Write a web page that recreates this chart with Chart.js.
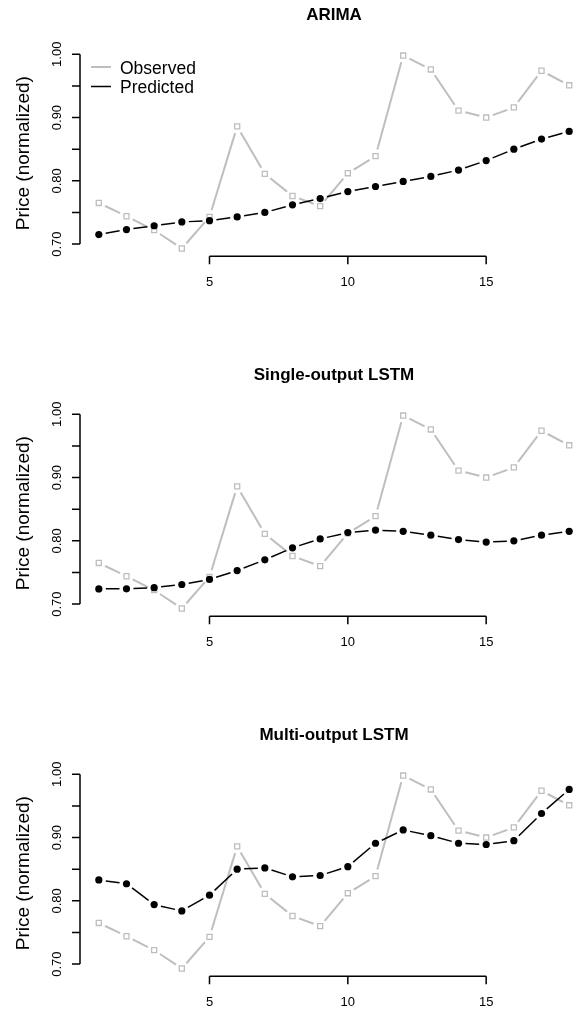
<!DOCTYPE html>
<html>
<head>
<meta charset="utf-8">
<script src="https://cdn.jsdelivr.net/npm/chart.js@4/dist/chart.umd.min.js"></script>
<style>
  html, body { margin: 0; padding: 0; background: #fff; overflow: hidden; width: 577px; height: 1010px; }
  .panel { position: absolute; left: 0; width: 600px; height: 360px; }
  .panel canvas { display: block; }
</style>
</head>
<body>
<div class="panel" style="top:0px"><canvas id="c0" width="600" height="360"></canvas></div>
<div class="panel" style="top:360px"><canvas id="c1" width="600" height="360"></canvas></div>
<div class="panel" style="top:720px"><canvas id="c2" width="600" height="360"></canvas></div>
<script>
// ---- data ----
const steps = [1,2,3,4,5,6,7,8,9,10,11,12,13,14,15,16,17,18];
const observed = [0.765,0.744,0.722,0.693,0.743,0.886,0.811,0.776,0.760,0.812,0.839,0.998,0.976,0.911,0.900,0.916,0.974,0.951];
const predArima = [0.715,0.723,0.729,0.735,0.737,0.743,0.750,0.762,0.772,0.783,0.791,0.799,0.807,0.817,0.832,0.850,0.866,0.878];
const predSingle = [0.724,0.7242,0.726,0.731,0.739,0.753,0.770,0.789,0.803,0.813,0.817,0.815,0.809,0.802,0.798,0.800,0.809,0.815];
const predMulti = [0.833,0.827,0.794,0.784,0.809,0.850,0.852,0.838,0.840,0.854,0.891,0.912,0.903,0.891,0.889,0.895,0.938,0.976];
const panelTitles = ["ARIMA", "Single-output LSTM", "Multi-output LSTM"];
const predictions = [predArima, predSingle, predMulti];
const seriesNames = ["Observed", "Predicted"];
const yTicks = [0.70,0.75,0.80,0.85,0.90,0.95,1.00];
const yTickLabels = ["0.70","","0.80","","0.90","","1.00"];
const xTicks = [5,10,15];
const xTickLabels = ["5","10","15"];
const yAxisTitle = "Price (normalized)";

// ---- styles ----
const GRAY = "#bebebe";
const FONT = "'Liberation Sans', Arial, Helvetica, sans-serif";
const GAP = 7;

function toXY(arr) { return arr.map((v, i) => ({x: steps[i], y: v})); }

// R type="b": line segments with gaps around the points
const gapSegment = {
  borderDash: ctx => {
    const L = Math.hypot(ctx.p1.x - ctx.p0.x, ctx.p1.y - ctx.p0.y);
    const eps = ctx.p0DataIndex * 1e-6;
    if (L <= 2 * GAP) return [0, L + 10 + eps];
    return [L - 2 * GAP + eps, 2 * GAP];
  },
  borderDashOffset: ctx => {
    const L = Math.hypot(ctx.p1.x - ctx.p0.x, ctx.p1.y - ctx.p0.y);
    if (L <= 2 * GAP) return 0;
    return L - GAP + ctx.p0DataIndex * 1e-6;
  }
};

const rAxesPlugin = {
  id: 'rAxes',
  afterDraw(chart, args, opts) {
    const ctx = chart.ctx;
    const xs = chart.scales.x, ys = chart.scales.y, area = chart.chartArea;
    ctx.save();
    ctx.strokeStyle = "#000";
    ctx.fillStyle = "#000";
    ctx.lineWidth = 1.5;
    const yTop = ys.getPixelForValue(yTicks[yTicks.length - 1]);
    const yBot = ys.getPixelForValue(yTicks[0]);
    ctx.beginPath();
    ctx.moveTo(area.left, yTop); ctx.lineTo(area.left, yBot);
    yTicks.forEach(t => {
      const py = ys.getPixelForValue(t);
      ctx.moveTo(area.left - 8, py); ctx.lineTo(area.left, py);
    });
    const xL = xs.getPixelForValue(xTicks[0]);
    const xR = xs.getPixelForValue(xTicks[xTicks.length - 1]);
    ctx.moveTo(xL, area.bottom); ctx.lineTo(xR, area.bottom);
    xTicks.forEach(t => {
      const px = xs.getPixelForValue(t);
      ctx.moveTo(px, area.bottom); ctx.lineTo(px, area.bottom + 8);
    });
    ctx.stroke();
    ctx.font = "13px " + FONT;
    ctx.textAlign = "center";
    ctx.textBaseline = "middle";
    yTicks.forEach((t, i) => {
      if (!yTickLabels[i]) return;
      const py = ys.getPixelForValue(t);
      ctx.save();
      ctx.translate(57, py);
      ctx.rotate(-Math.PI / 2);
      ctx.fillText(yTickLabels[i], 0, 0);
      ctx.restore();
    });
    xTicks.forEach((t, i) => {
      ctx.fillText(xTickLabels[i], xs.getPixelForValue(t), area.bottom + 26);
    });
    ctx.save();
    ctx.font = "19px " + FONT;
    ctx.translate(23.5, (yTop + yBot) / 2 + 4);
    ctx.rotate(-Math.PI / 2);
    ctx.fillText(yAxisTitle, 0, 0);
    ctx.restore();
    ctx.font = "bold 17px " + FONT;
    ctx.fillText(opts.title, 334, 15);
    if (opts.legend) {
      ctx.textAlign = "left";
      ctx.font = "17.5px " + FONT;
      ctx.lineWidth = 2;
      ctx.strokeStyle = GRAY;
      ctx.beginPath(); ctx.moveTo(91, 67); ctx.lineTo(111, 67); ctx.stroke();
      ctx.lineWidth = 1.5;
      ctx.strokeStyle = "#000";
      ctx.beginPath(); ctx.moveTo(91, 86.5); ctx.lineTo(111, 86.5); ctx.stroke();
      ctx.fillText(seriesNames[0], 120, 69);
      ctx.fillText(seriesNames[1], 120, 88.5);
    }
    ctx.restore();
  }
};

function makeChart(idx) {
  new Chart(document.getElementById("c" + idx), {
    type: 'line',
    data: {
      datasets: [
        {
          label: seriesNames[1],
          data: toXY(predictions[idx]),
          borderColor: "#000",
          borderWidth: 1.5,
          borderCapStyle: 'butt',
          pointStyle: 'circle',
          pointRadius: 3.6,
          pointBackgroundColor: "#000",
          pointBorderWidth: 0,
          segment: gapSegment,
          clip: false,
          order: 0
        },
        {
          label: seriesNames[0],
          data: toXY(observed),
          borderColor: GRAY,
          borderWidth: 2,
          borderCapStyle: 'butt',
          pointStyle: 'rect',
          pointRadius: 3.6,
          pointBackgroundColor: "#fff",
          pointBorderColor: GRAY,
          pointBorderWidth: 1.3,
          segment: gapSegment,
          clip: false,
          order: 1
        }
      ]
    },
    options: {
      responsive: false,
      animation: false,
      devicePixelRatio: 1,
      layout: { padding: { left: 80, right: 12, top: 46.5, bottom: 103.7 } },
      scales: {
        x: { type: 'linear', min: 0.32, max: 18.68, display: false },
        y: { type: 'linear', min: 0.6807, max: 1.0123, display: false }
      },
      plugins: {
        legend: { display: false },
        tooltip: { enabled: false },
        rAxes: { title: panelTitles[idx], legend: idx === 0 }
      }
    },
    plugins: [rAxesPlugin]
  });
}
[0, 1, 2].forEach(makeChart);
</script>
</body>
</html>
